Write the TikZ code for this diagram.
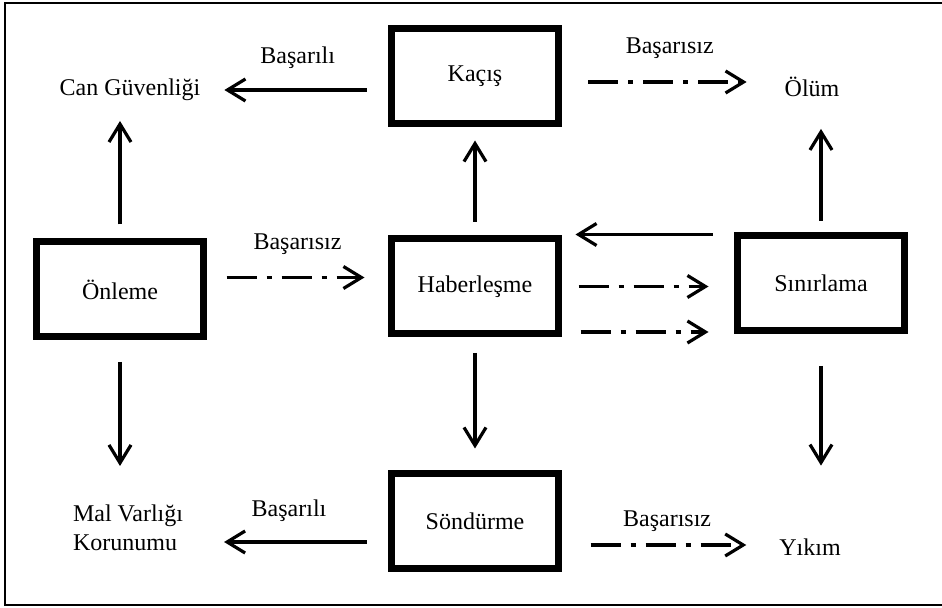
\documentclass[tikz,border=0pt]{standalone}
\usepackage{fontspec}
\setmainfont{Liberation Serif}
\usetikzlibrary{arrows.meta, positioning}
\tikzstyle{every picture} = [x=0.5pt, y=-0.5pt]

\begin{document}
\begin{tikzpicture} [every node/.style={font=\fontsize{12}{14.5}\selectfont},
            stagebox/.style={draw, line width=3.5pt, minimum width=83.5pt, minimum height=47.5pt, inner sep=0pt},
            okarrow/.style={-{Straight Barb[length=9pt,width=11pt]}, line width=1.6pt},
            failarrow/.style={okarrow, dash pattern=on 15pt off 5pt on 2.5pt off 5pt}]
            \useasboundingbox (0,0) rectangle (942,608);
            \draw[line width=1pt] (946,3) -- (5,3) -- (5,605) -- (946,605);

            \node (kacis) [stagebox] at (475,76) {Kaçış};
            \node (onleme) [stagebox] at (120,289.5) {Önleme};
            \node (haber) [stagebox] at (475,286.5) {Haberleşme};
            \node (sinir) [stagebox] at (821,283.5) {Sınırlama};
            \node (sondurme) [stagebox] at (475,521) {Söndürme};

            \node (can) at (130,90) {Can Güvenliği};
            \node (olum) at (812,87) {Ölüm};
            \node (mal) [align=left] at (128,528) {Mal Varlığı\\Korunumu};
            \node (yikim) at (810,547) {Yıkım};

            \draw[okarrow, shorten <=10.75pt, shorten >=8.5pt] (kacis.west |- can) -- node[midway, above=9pt, inner sep=1pt] {Başarılı} (can.east);
            \draw[failarrow, shorten <=13pt, shorten >=15.5pt] ([yshift=-3pt]kacis.east) -- node[midway, above=10pt, inner sep=1pt] {Başarısız} ([yshift=-3pt]kacis.east -| olum.west);
            \draw[okarrow, shorten <=7pt, shorten >=6.5pt] (onleme.north) -- (onleme.north |- can.south);
            \draw[okarrow, shorten <=6.75pt, shorten >=6.75pt] (haber.north) -- (kacis.south);
            \draw[okarrow, shorten <=5.75pt, shorten >=12.5pt] (sinir.north) -- (sinir.north |- olum.south);

            \draw[okarrow, shorten <=10.75pt, shorten >=6.75pt] ([yshift=-1pt]sinir.north west) -- ([yshift=-1pt]sinir.north west -| haber.east);
            \draw[failarrow, shorten <=9.75pt, shorten >=11.75pt] ([yshift=6pt]onleme.east) -- node[midway, above=9.5pt, inner sep=1pt] {Başarısız} ([yshift=6pt]onleme.east -| haber.west);
            \draw[failarrow, shorten <=8.25pt, shorten >=12.75pt] (haber.east) -- (haber.east -| sinir.west);
            \draw[failarrow, shorten <=9.25pt, shorten >=12.75pt] ([yshift=-22.75pt]haber.east) -- ([yshift=-22.75pt]haber.east -| sinir.west);

            \draw[okarrow, shorten <=10.75pt, shorten >=16pt] (onleme.south) -- (onleme.south |- mal.north);
            \draw[okarrow, shorten <=7.75pt, shorten >=10.75pt] (haber.south) -- (sondurme.north);
            \draw[okarrow, shorten <=15.75pt, shorten >=33pt] (sinir.south) -- (sinir.south |- yikim.north);

            \draw[okarrow, shorten <=10.75pt, shorten >=17pt] ([yshift=-10.5pt]sondurme.west) -- node[midway, above=8.5pt, inner sep=1pt] {Başarılı} ([yshift=-10.5pt]sondurme.west -| mal.east);
            \draw[failarrow, shorten <=14.25pt, shorten >=13pt] ([yshift=-12pt]sondurme.east) -- node[midway, above=5pt, inner sep=1pt] {Başarısız} ([yshift=-12pt]sondurme.east -| yikim.west);
        \end{tikzpicture}
\end{document}
